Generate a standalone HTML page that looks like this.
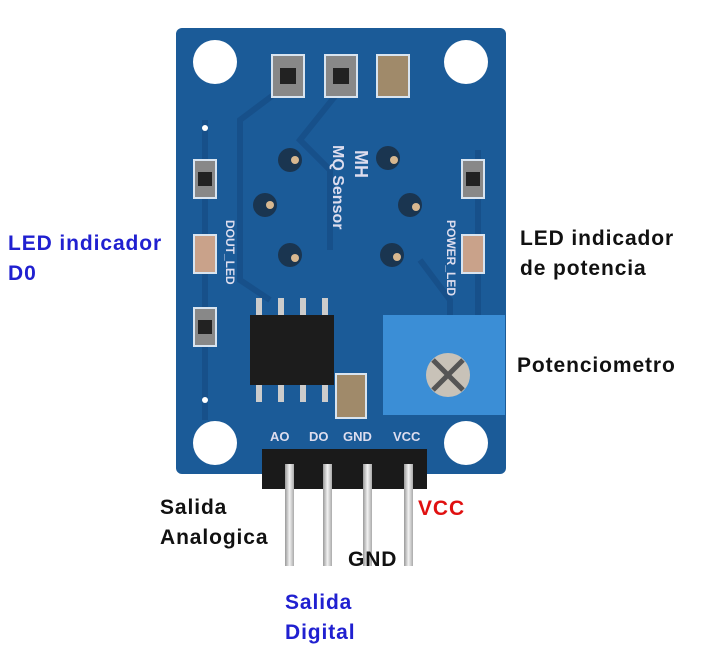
<!DOCTYPE html>
<html><head><style>
body{margin:0;background:#fff;width:720px;height:656px;overflow:hidden;position:relative;font-family:"Liberation Sans",sans-serif;font-weight:bold}
.t{position:absolute;font-size:21px;letter-spacing:0.9px;line-height:30px}
</style></head><body>
<svg width="720" height="656" style="position:absolute;left:0;top:0">
<defs><linearGradient id="pin" x1="0" x2="1"><stop offset="0" stop-color="#999"/><stop offset=".5" stop-color="#f2f2f2"/><stop offset="1" stop-color="#aaa"/></linearGradient></defs>
<rect x="176" y="28" width="330" height="446" rx="6" fill="#1b5b98"/>
<g fill="none" stroke="#17508a" stroke-width="6">
<path d="M205 120 V420"/><path d="M478 150 V320"/>
<path d="M280 90 L240 120 V280 L270 300"/><path d="M340 90 L300 140 L330 170 V250"/>
<path d="M420 260 L450 300 V330"/>
</g>
<g fill="#fff"><circle cx="215" cy="62" r="22"/><circle cx="466" cy="62" r="22"/><circle cx="215" cy="443" r="22"/><circle cx="466" cy="443" r="22"/>
<circle cx="205" cy="128" r="3"/><circle cx="205" cy="400" r="3"/></g>
<g stroke="#d8e4f0" stroke-width="2" fill="#888">
<rect x="272" y="55" width="32" height="42"/><rect x="325" y="55" width="32" height="42"/><rect x="377" y="55" width="32" height="42" fill="#a08a6a"/>
<rect x="194" y="160" width="22" height="38"/><rect x="194" y="235" width="22" height="38" fill="#c9a28a"/><rect x="194" y="308" width="22" height="38"/>
<rect x="462" y="160" width="22" height="38"/><rect x="462" y="235" width="22" height="38" fill="#c9a28a"/>
<rect x="336" y="374" width="30" height="44" fill="#a08a6a"/>
</g>
<g fill="#222"><rect x="280" y="68" width="16" height="16"/><rect x="333" y="68" width="16" height="16"/><rect x="198" y="172" width="14" height="14"/><rect x="198" y="320" width="14" height="14"/><rect x="466" y="172" width="14" height="14"/></g>
<g fill="#1a3550"><circle cx="290" cy="160" r="12"/><circle cx="265" cy="205" r="12"/><circle cx="290" cy="255" r="12"/><circle cx="388" cy="158" r="12"/><circle cx="410" cy="205" r="12"/><circle cx="392" cy="255" r="12"/></g>
<g fill="#d8b890"><circle cx="295" cy="160" r="4"/><circle cx="270" cy="205" r="4"/><circle cx="295" cy="258" r="4"/><circle cx="394" cy="160" r="4"/><circle cx="416" cy="207" r="4"/><circle cx="397" cy="257" r="4"/></g>
<g fill="#ccc"><rect x="256" y="298" width="6" height="20"/><rect x="278" y="298" width="6" height="20"/><rect x="300" y="298" width="6" height="20"/><rect x="322" y="298" width="6" height="20"/>
<rect x="256" y="382" width="6" height="20"/><rect x="278" y="382" width="6" height="20"/><rect x="300" y="382" width="6" height="20"/><rect x="322" y="382" width="6" height="20"/></g>
<rect x="250" y="315" width="84" height="70" fill="#1c1c1c"/>
<rect x="383" y="315" width="122" height="100" fill="#3b8ed6"/>
<circle cx="448" cy="375" r="22" fill="#c8c2b8"/><path d="M433 360 L463 390 M463 360 L433 390" stroke="#555" stroke-width="5"/>
<rect x="262" y="449" width="165" height="40" fill="#1a1a1a"/>
<g fill="url(#pin)"><rect x="285" y="464" width="9" height="102"/><rect x="323" y="464" width="9" height="102"/><rect x="363" y="464" width="9" height="102"/><rect x="404" y="464" width="9" height="102"/></g>
<g fill="#dde" font-family="Liberation Sans" font-size="13">
<text x="270" y="441">AO</text><text x="309" y="441">DO</text><text x="343" y="441">GND</text><text x="393" y="441">VCC</text>
<text transform="translate(355,150) rotate(90)" font-size="18">MH</text>
<text transform="translate(333,145) rotate(90)" font-size="16">MQ Sensor</text>
<text transform="translate(226,220) rotate(90)" font-size="12">DOUT_LED</text>
<text transform="translate(447,220) rotate(90)" font-size="12">POWER_LED</text>
</g>
</svg>
<div class="t" style="left:8px;top:229px;color:#2020d0">LED indicador<br>D0</div>
<div class="t" style="left:520px;top:224px;color:#111">LED indicador<br>de potencia</div>
<div class="t" style="left:517px;top:351px;color:#111">Potenciometro</div>
<div class="t" style="left:160px;top:493px;color:#111">Salida<br>Analogica</div>
<div class="t" style="left:418px;top:494px;color:#e01010">VCC</div>
<div class="t" style="left:348px;top:545px;color:#111">GND</div>
<div class="t" style="left:285px;top:588px;color:#2020d0">Salida<br>Digital</div>
</body></html>
